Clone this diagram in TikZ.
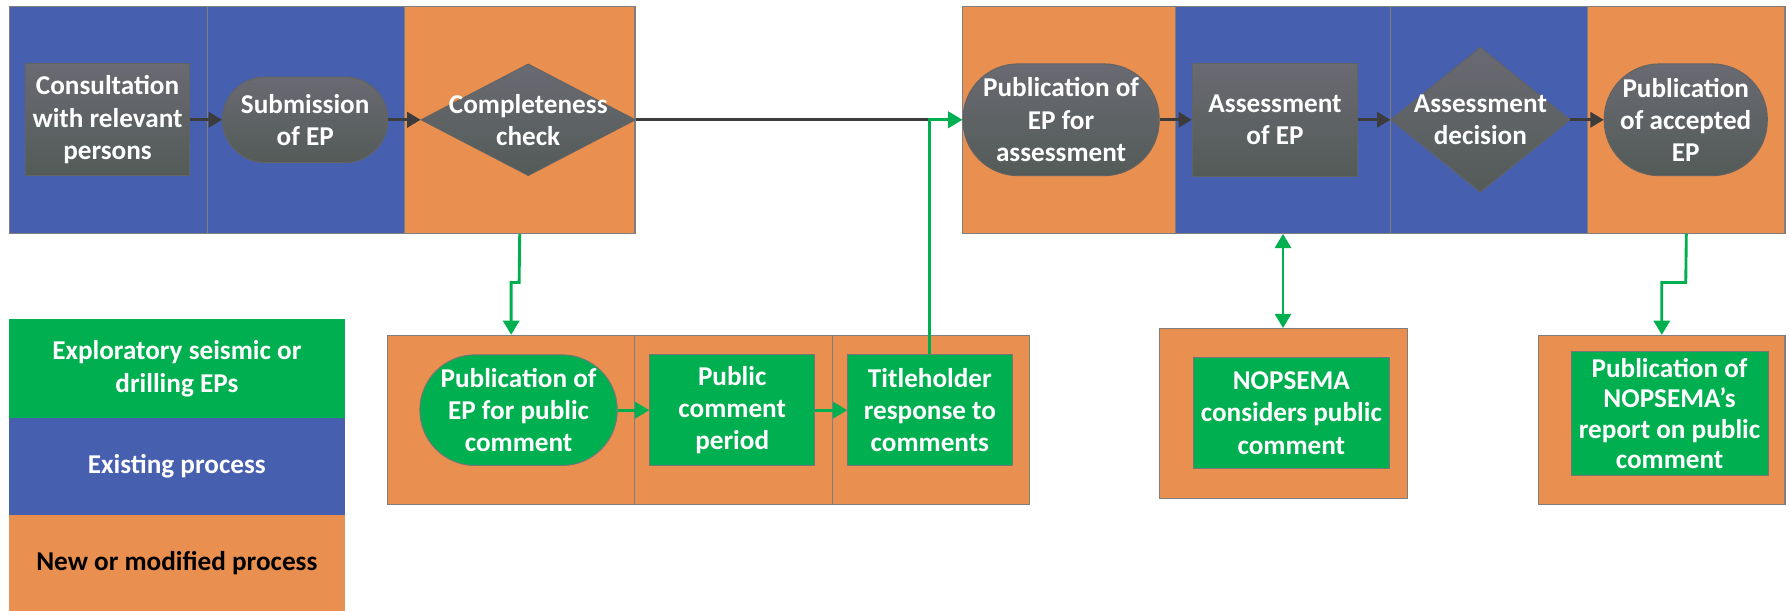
\documentclass[tikz,border=0pt]{standalone}
\usepackage{fontspec}
\setmainfont{Carlito}
\usetikzlibrary{shapes.geometric,arrows.meta}
\definecolor{laneblue}{HTML}{4660AF}
\definecolor{laneorange}{HTML}{E98F4F}
\definecolor{pgreen}{HTML}{00B050}
\definecolor{darkline}{HTML}{3C3C3C}
\definecolor{edgegray}{HTML}{7F7F7F}
\definecolor{gtop}{HTML}{6A6A72}
\definecolor{gbot}{HTML}{535B58}
\begin{document}
\begin{tikzpicture}[x=0.6pt,y=-0.6pt,
  lane/.style={draw=edgegray, line width=0.6pt, inner sep=0pt, anchor=north west},
  bluelane/.style={lane, fill=laneblue},
  orangelane/.style={lane, fill=laneorange},
  greenlane/.style={lane, fill=pgreen, draw=none},
  txt/.style={font=\fontsize{14.3}{17}\selectfont\bfseries, align=center, text=white},
  grayshape/.style={txt, draw=darkline!80, line width=0.5pt, top color=gtop, bottom color=gbot, inner sep=0pt},
  greenshape/.style={txt, draw=darkline!70, line width=0.5pt, fill=pgreen, inner sep=0pt},
  darrow/.style={draw=darkline, line width=1.4pt, -{Triangle[length=7pt,width=8pt]}},
  dline/.style={draw=darkline, line width=1.4pt},
  garrow/.style={draw=pgreen, line width=1.5pt, -{Triangle[length=7.5pt,width=8.5pt]}},
  gdouble/.style={draw=pgreen, line width=1.5pt, {Triangle[length=7.5pt,width=8.5pt]}-{Triangle[length=7.5pt,width=8.5pt]}},
  ]
\useasboundingbox (0,0) rectangle (1568,535);

% swimlanes, top left
\node[bluelane, minimum width=103.8pt, minimum height=119.4pt] (laneA) at (8,5) {};
\node[bluelane, minimum width=103.8pt, minimum height=119.4pt] (laneB) at (181,5) {};
\node[orangelane, minimum width=121.2pt, minimum height=119.4pt] (laneC) at (354,5) {};
% swimlanes, top right
\node[orangelane, minimum width=112.2pt, minimum height=119.4pt] (laneD) at (843,5) {};
\node[bluelane, minimum width=112.8pt, minimum height=119.4pt] (laneE) at (1030,5) {};
\node[bluelane, minimum width=103.8pt, minimum height=119.4pt] (laneF) at (1218,5) {};
\node[orangelane, minimum width=103.8pt, minimum height=119.4pt] (laneG) at (1391,5) {};
% lower lanes
\node[orangelane, minimum width=129.6pt, minimum height=88.8pt] (laneH) at (339.5,293.5) {};
\node[orangelane, minimum width=104.1pt, minimum height=88.8pt] (laneI) at (555.5,293.5) {};
\node[orangelane, minimum width=103.5pt, minimum height=88.8pt] (laneJ) at (729,293.5) {};
\node[orangelane, minimum width=130.2pt, minimum height=89.4pt] (nopsBox) at (1016,287.5) {};
\node[orangelane, minimum width=129.6pt, minimum height=88.8pt] (repBox) at (1348,293.5) {};

% legend
\node[greenlane, minimum width=177pt, minimum height=51.9pt, txt] (leg1) at (7,279.5) {Exploratory seismic or\\drilling EPs};
\node[bluelane, draw=none, minimum width=177pt, minimum height=51pt, txt] (leg2) at (7,366) {Existing process};
\node[orangelane, draw=none, minimum width=177pt, minimum height=50.4pt, txt, text=black] (leg3) at (7,451) {New or modified process};

% process shapes, top
\node[grayshape, minimum width=86.1pt, minimum height=58.8pt] (cons) at (94.25,105) {Consultation\\with relevant\\persons};
\node[grayshape, rounded corners=22.5pt, minimum width=87pt, minimum height=45pt] (sub) at (267.5,105) {Submission\\of EP};
\node[grayshape, diamond, minimum width=112.8pt, minimum height=58.8pt] (comp) at (463,105) {};
\node[txt] (compT) at (comp) {Completeness\\check};
\node[grayshape, rounded corners=29pt, minimum width=103.2pt, minimum height=58.8pt] (pubA) at (930,105) {Publication of\\EP for\\assessment};
\node[grayshape, minimum width=87pt, minimum height=59.4pt] (assess) at (1117.5,105) {Assessment\\of EP};
\node[grayshape, diamond, minimum width=94.2pt, minimum height=76.2pt] (decision) at (1297.5,105) {};
\node[txt] (decisionT) at (decision) {Assessment\\decision};
\node[grayshape, rounded corners=29pt, minimum width=85.8pt, minimum height=58.8pt] (pubAcc) at (1477.5,105) {Publication\\of accepted\\EP};

% process shapes, bottom
\node[greenshape, rounded corners=29pt, minimum width=103.8pt, minimum height=58.2pt] (pubPC) at (454.5,359.5) {Publication of\\EP for public\\comment};
\node[greenshape, minimum width=86.7pt, minimum height=58.2pt] (pcp) at (641.75,359.5) {Public\\comment\\period};
\node[greenshape, minimum width=86.4pt, minimum height=58.2pt] (title) at (815,359.5) {Titleholder\\response to\\comments};
\node[greenshape, minimum width=103.4pt, minimum height=58.8pt] (nops) at (1131.8,362) {NOPSEMA\\considers public\\comment};
\node[greenshape, minimum width=103.6pt, minimum height=65.2pt, font=\fontsize{14.3}{16}\selectfont\bfseries] (report) at (1463.3,362.3) {Publication of\\NOPSEMA’s\\report on public\\comment};

% connectors
\draw[darrow] (cons.east) -- (sub.west);
\draw[darrow] (sub.east) -- (comp.west);
\draw[dline] (comp.east) -- (comp.east -| title.north);
\draw[garrow] (title.north) |- (pubA.west);
\draw[darrow] (pubA.east) -- (assess.west);
\draw[darrow] (assess.east) -- (decision.west);
\draw[darrow] (decision.east) -- (pubAcc.west);

\coordinate (m1) at (455,247.6);
\coordinate (m2) at (1477.5,247.6);
\draw[garrow] (laneC.south) -- (m1) -| (laneH.north);
\draw[garrow] (laneG.south) -- (m2) -| (repBox.north);
\draw[gdouble] (laneE.south) -- (laneE.south |- nopsBox.north);
\draw[garrow] (pubPC.east) -- (pcp.west);
\draw[garrow] (pcp.east) -- (title.west);
\end{tikzpicture}
\end{document}
